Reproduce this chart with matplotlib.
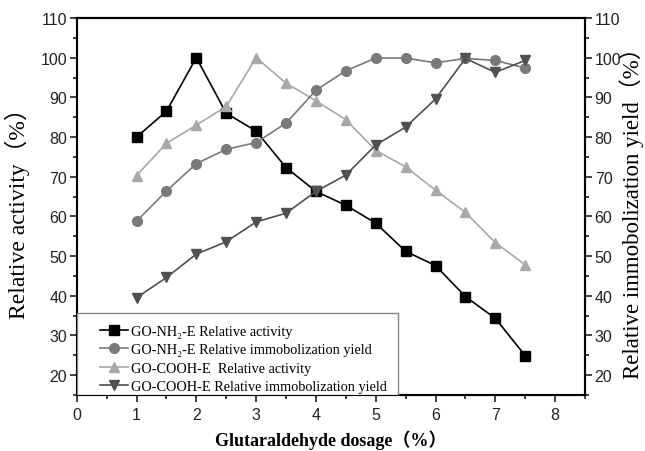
import matplotlib.pyplot as plt
from matplotlib.patches import Rectangle
from matplotlib.ticker import MultipleLocator

dosage = [1, 1.5, 2, 2.5, 3, 3.5, 4, 4.5, 5, 5.5, 6, 6.5, 7, 7.5]
nh2_activity = [80, 86.5, 100, 86, 81.5, 72.3, 66.3, 62.8, 58.3, 51.2, 47.6, 39.8, 34.3, 24.9]
nh2_yield = [58.8, 66.4, 73.3, 76.9, 78.6, 83.5, 91.8, 96.7, 99.9, 99.9, 98.7, 99.8, 99.3, 97.4]
cooh_activity = [70.3, 78.4, 83, 87.7, 100, 93.6, 89.1, 84.4, 76.6, 72.5, 66.6, 61, 53.4, 47.8]
cooh_yield = [39.5, 44.6, 50.5, 53.6, 58.6, 60.8, 66.3, 70.4, 78, 82.5, 89.6, 99.8, 96.3, 99.3]

serif = ['Liberation Serif', 'Noto Sans CJK SC', 'DejaVu Serif']
tickfont = 'Liberation Sans'

fig = plt.figure(figsize=(6.45, 4.52), dpi=100)
ax = fig.add_axes([0.119, 0.124, 0.788, 0.834])
ax2 = ax.twinx()

l1, = ax.plot(dosage, nh2_activity, '-s', color='black', ms=6.5, lw=1.2,
              label='GO-NH₂-E Relative activity')
l3, = ax.plot(dosage, cooh_activity, '-^', color='#a8a8a8', ms=7.5, lw=1.2,
              label='GO-COOH-E  Relative activity')
l2, = ax2.plot(dosage, nh2_yield, '-o', color='#7a7a7a', ms=7, lw=1.2,
               label='GO-NH₂-E Relative immobolization yield')
l4, = ax2.plot(dosage, cooh_yield, '-v', color='#505050', ms=7.5, lw=1.2,
               label='GO-COOH-E Relative immobolization yield')

for a in (ax, ax2):
    a.set_ylim(15, 110)
    a.yaxis.set_major_locator(MultipleLocator(10))
    a.yaxis.set_minor_locator(MultipleLocator(5))
    a.tick_params(which='both', direction='out', labelsize=11.5, width=1.2,
                  colors='#222222')
    a.tick_params(which='major', length=5, pad=2)
    a.tick_params(which='minor', length=3)
    for s in a.spines.values():
        s.set_linewidth(1.5)
    for lab in a.get_yticklabels():
        lab.set_family(tickfont)

ax.set_xlim(0, 8.5)
ax.xaxis.set_major_locator(MultipleLocator(1))
ax.xaxis.set_minor_locator(MultipleLocator(0.5))
ax.tick_params(axis='x', top=False, pad=4)
for lab in ax.get_xticklabels():
    lab.set_family(tickfont)

ax.set_xlabel('Glutaraldehyde dosage（%）', family=serif, fontweight='bold',
              fontsize=13)
ax.xaxis.set_label_coords(0.5, -0.092)
ax.set_ylabel('Relative activity（%）', family=serif, fontsize=17)
ax.yaxis.set_label_coords(-0.092, 0.5)
ax2.set_ylabel('Relative immobolization yield（%）', family=serif, fontsize=16.5)
ax2.yaxis.set_label_coords(1.068, 0.5)

# legend box sits in the lower-left corner of the axes
ax2.add_patch(Rectangle((0, 0), 0.632, 0.2175, transform=ax2.transAxes,
                        facecolor='white', edgecolor='#888888', lw=1.0,
                        zorder=3))
leg = ax2.legend(handles=[l1, l2, l3, l4], loc='center left',
                 bbox_to_anchor=(0.045, 0.0955), borderpad=0, borderaxespad=0,
                 frameon=False,
                 prop={'family': serif, 'size': 10.3},
                 handlelength=2.0, handletextpad=0.2, labelspacing=0.38)
leg.set_zorder(4)

fig.savefig('out.png', dpi=100)
